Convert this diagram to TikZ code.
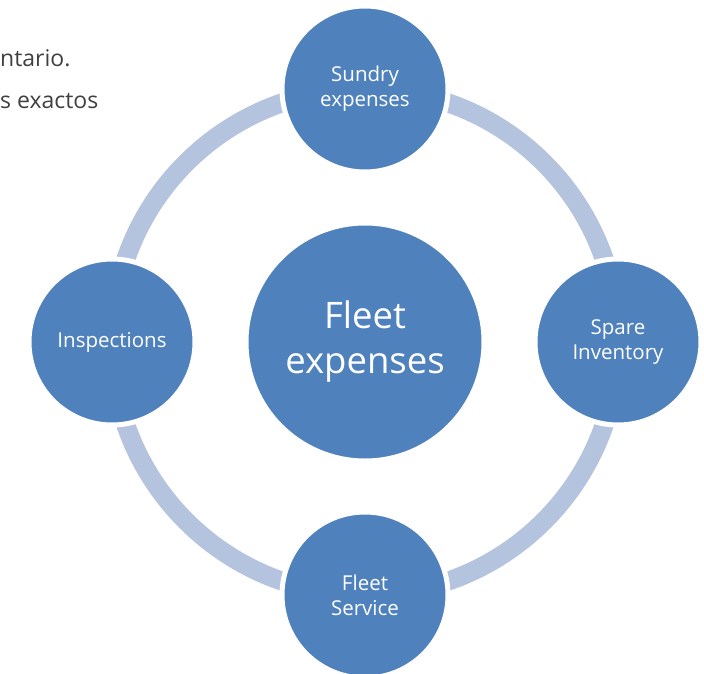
\documentclass[tikz,border=0pt]{standalone}
\usepackage{fontspec}
\setmainfont{Open Sans}
\usetikzlibrary{positioning,backgrounds}
\definecolor{hubblue}{HTML}{4F81BD}
\definecolor{ringblue}{HTML}{B4C3DE}
\definecolor{notegray}{HTML}{404040}

\begin{document}
\begin{tikzpicture}[x=1pt,y=1pt,node distance=253pt,on grid,
    bubble/.style={circle,fill=hubblue,draw=white,line width=5pt,
      text=white,align=center,inner sep=0pt},
    small bubble/.style={bubble,minimum size=166pt,
      font=\fontsize{20.5}{25}\selectfont},
    big bubble/.style={bubble,minimum size=238pt,
      font=\fontsize{36.5}{45}\selectfont},
    ring/.style={draw=ringblue,line width=19pt},
    note/.style={anchor=base west,inner sep=0pt,text=notegray,
      font=\fontsize{23}{26}\selectfont}]
  \useasboundingbox (-365,-331) rectangle (339,342);
  \node[big bubble] (hub) at (0,0) {Fleet\\expenses};
  \node[small bubble,above=of hub] (sundry) {Sundry\\expenses};
  \node[small bubble,right=of hub] (spare) {Spare\\Inventory};
  \node[small bubble,below=of hub] (service) {Fleet\\Service};
  \node[small bubble,left=of hub] (inspect) {Inspections};
  \begin{scope}[on background layer]
    \foreach \from/\to/\o/\i in {sundry/spare/0/90,spare/service/-90/0,
        service/inspect/180/-90,inspect/sundry/90/180}
      \draw[ring] (\from.center) to[out=\o,in=\i] (\to.center);
  \end{scope}
  \node[note] (note1) at (-365,276) {ntario.};
  \node[note] (note2) at (-365,234) {s exactos};
\end{tikzpicture}
\end{document}
